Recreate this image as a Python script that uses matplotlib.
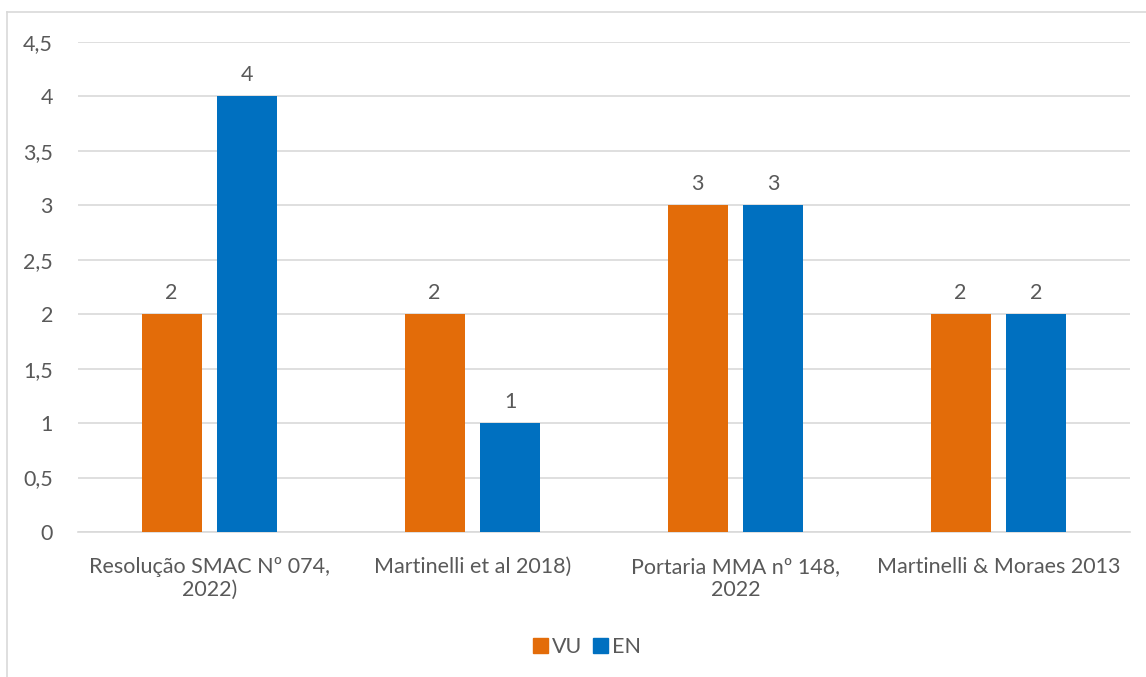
import numpy as np
import matplotlib.pyplot as plt
from matplotlib.lines import Line2D
from matplotlib.patches import Patch

categories = ['Resolução SMAC Nº 074,\n2022)', 'Martinelli et al 2018)',
              'Portaria MMA nº 148,\n2022', 'Martinelli & Moraes 2013']
vu = [2, 2, 3, 2]
en = [4, 1, 3, 2]
yticks = [0, 0.5, 1, 1.5, 2, 2.5, 3, 3.5, 4, 4.5]

orange = '#E36C09'
blue = '#0070C0'
grid_col = '#D9D9D9'
text_col = '#595959'
fs = 15.5

plt.rcParams['font.family'] = ['Lato', 'DejaVu Sans']

fig = plt.figure(figsize=(11.46, 6.77), dpi=100)
ax = fig.add_axes([78 / 1146, 1 - 532 / 677, (1130 - 78) / 1146, (532 - 42) / 677])

x = np.arange(len(categories))
w = 0.228
off = 0.144
b1 = ax.bar(x - off, vu, width=w, color=orange, label='VU', zorder=3)
b2 = ax.bar(x + off, en, width=w, color=blue, label='EN', zorder=3)

for bars in (b1, b2):
    for r in bars:
        ax.annotate(f'{r.get_height():g}', (r.get_x() + r.get_width() / 2, r.get_height()),
                    xytext=(0, 8), textcoords='offset points', ha='center', va='bottom',
                    fontsize=fs, color=text_col)

ax.set_xlim(-0.5, len(categories) - 0.5)
ax.set_ylim(0, 4.5)
ax.set_yticks(yticks)
ax.set_yticklabels([f'{v:g}'.replace('.', ',') for v in yticks])
ax.set_xticks(x)
ax.set_xticklabels(categories, linespacing=1.2)
ax.tick_params(axis='both', length=0, labelsize=fs, labelcolor=text_col)
ax.tick_params(axis='y', pad=18)
ax.tick_params(axis='x', pad=18)
ax.yaxis.grid(True, color=grid_col, linewidth=1.2, zorder=0)
for s in ['top', 'right', 'left']:
    ax.spines[s].set_visible(False)
ax.spines['bottom'].set_color(grid_col)
ax.spines['bottom'].set_linewidth(1.2)

# outer chart frame (only left and top visible in the crop)
fig.add_artist(Line2D([7 / 1146, 7 / 1146], [0, 1 - 12 / 677], color=grid_col, lw=1.2))
fig.add_artist(Line2D([7 / 1146, 1], [1 - 12 / 677, 1 - 12 / 677], color=grid_col, lw=1.2))

handles = [Patch(color=orange, label='VU'), Patch(color=blue, label='EN')]
fig.legend(handles=handles, loc='center', bbox_to_anchor=(587 / 1146, 1 - 647 / 677), ncol=2,
           frameon=False, fontsize=fs, labelcolor=text_col, handlelength=0.7, handleheight=0.7,
           handletextpad=0.2, columnspacing=0.5)

fig.savefig('out.png', dpi=100)
